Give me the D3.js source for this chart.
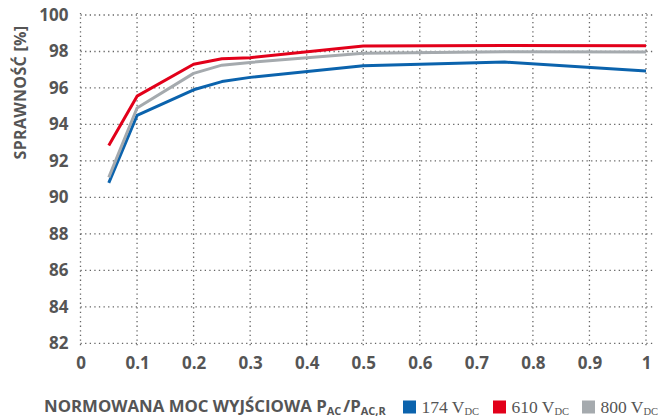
<!DOCTYPE html>
<html>
<head>
<meta charset="utf-8">
<script src="https://cdn.jsdelivr.net/npm/d3@7"></script>
<style>
  body { margin: 0; background: #fff; }
  svg { display: block; }
  .tick text { font-family: "Open Sans", sans-serif; font-weight: 700; fill: #555; }
  .grid line { stroke: #666; stroke-width: 1.3; stroke-dasharray: 1.3 3.3; }
  .line { fill: none; stroke-width: 3; stroke-linejoin: round; }
</style>
</head>
<body>
<svg id="chart" width="658" height="417"></svg>
<script>
// chart data
const xValues = [0.05, 0.1, 0.2, 0.25, 0.3, 0.5, 0.75, 1];
const v174 = [90.8, 94.5, 95.9, 96.35, 96.58, 97.22, 97.42, 96.93];
const v610 = [92.85, 95.55, 97.3, 97.6, 97.66, 98.3, 98.33, 98.32];
const v800 = [91.1, 94.9, 96.8, 97.25, 97.4, 97.9, 97.99, 97.97];
const xTicks = [0, 0.1, 0.2, 0.3, 0.4, 0.5, 0.6, 0.7, 0.8, 0.9, 1];
const yTicks = [82, 84, 86, 88, 90, 92, 94, 96, 98, 100];
const seriesNames = ["174", "610", "800"];

const svg = d3.select("#chart");
const margin = { top: 15, right: 12, bottom: 74, left: 80.5 };
const width = 658, height = 417;

const x = d3.scaleLinear().domain([0, 1]).range([margin.left, 646]);
const y = d3.scaleLinear().domain([82, 100]).range([343.3, margin.top]);

const colors = d3.scaleOrdinal()
    .domain(seriesNames)
    .range(["#0b63ad", "#e2001a", "#a5aaae"]);

// grid
const grid = svg.append("g").attr("class", "grid");
grid.selectAll(".h").data(yTicks).join("line")
    .attr("x1", x(0)).attr("x2", x(1) + 7)
    .attr("y1", d => y(d)).attr("y2", d => y(d));
grid.selectAll(".v").data(xTicks).join("line")
    .attr("x1", d => x(d)).attr("x2", d => x(d))
    .attr("y1", y(82) + 2).attr("y2", y(100) - 2);

// axes (labels only)
svg.append("g")
    .attr("transform", `translate(0,${y(82)})`)
    .call(d3.axisBottom(x).tickValues(xTicks).tickSize(0).tickPadding(14)
        .tickFormat(d => d === 0 || d === 1 ? d3.format("d")(d) : d3.format(".1f")(d)))
    .call(g => g.select(".domain").remove())
    .selectAll("text").style("font-size", "17px");

svg.append("g")
    .attr("transform", `translate(${x(0)},0)`)
    .call(d3.axisLeft(y).tickValues(yTicks).tickSize(0).tickPadding(12))
    .call(g => g.select(".domain").remove())
    .selectAll("text").style("font-size", "17px");

// lines
const line = d3.line().x(d => x(d[0])).y(d => y(d[1]));
const allSeries = [v174, v610, v800];
[0, 2, 1].forEach(i => {
    svg.append("path")
        .datum(xValues.map((xv, j) => [xv, allSeries[i][j]]))
        .attr("class", "line")
        .attr("stroke", colors(seriesNames[i]))
        .attr("d", line);
});

// y axis title
svg.append("text")
    .attr("transform", `translate(26,${(y(100) + y(91.5)) / 2}) rotate(-90)`)
    .attr("text-anchor", "middle")
    .style("font-family", "'Open Sans', sans-serif")
    .style("font-weight", 700)
    .style("font-size", "16px")
    .style("letter-spacing", "0.3px")
    .style("fill", "#555")
    .text("SPRAWNOŚĆ [%]");

// x axis title
const xt = svg.append("text")
    .attr("x", 44).attr("y", 412)
    .style("font-family", "'Open Sans', sans-serif")
    .style("font-weight", 700)
    .style("font-size", "16.8px")
    .style("fill", "#555");
xt.append("tspan").text("NORMOWANA MOC WYJŚCIOWA P");
xt.append("tspan").attr("dy", 3).style("font-size", "11px").text("AC");
xt.append("tspan").attr("dy", -3).attr("dx", 2).text("/P");
xt.append("tspan").attr("dy", 3).style("font-size", "11px").text("AC,R");

// legend
const legendX = [403, 493, 582];
const legend = svg.append("g").attr("class", "legend");
seriesNames.forEach((name, i) => {
    const g = legend.append("g").attr("transform", `translate(${legendX[i]},400.5)`);
    g.append("rect").attr("width", 13).attr("height", 13).attr("fill", colors(name));
    const t = g.append("text")
        .attr("x", 18.5).attr("y", 12.5)
        .style("font-family", "'Liberation Serif', serif")
        .style("font-size", "17.5px")
        .style("fill", "#555");
    t.append("tspan").text(name + " V");
    t.append("tspan").attr("dy", 2).style("font-size", "10.5px").text("DC");
});
</script>
</body>
</html>
